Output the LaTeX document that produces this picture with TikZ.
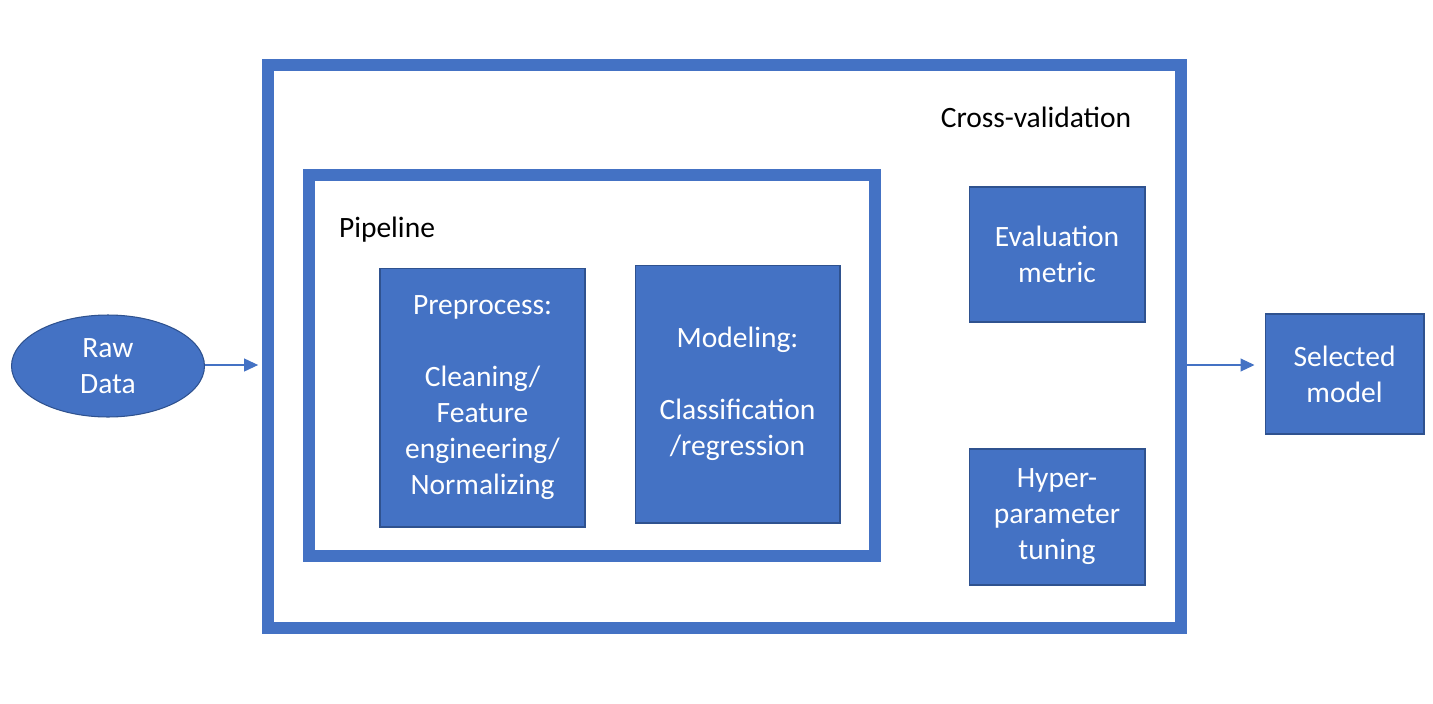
\documentclass[tikz,border=0pt]{standalone}
\usepackage{fontspec}
\setmainfont{Carlito}
\usetikzlibrary{shapes.geometric,arrows.meta}
\definecolor{officeblue}{HTML}{4472C4}
\definecolor{officeedge}{HTML}{2F528F}
\begin{document}
\begin{tikzpicture}[
        x=0.02cm, y=-0.02cm,
        font=\fontsize{16.8}{20.5}\selectfont,
        box/.style={
            draw=officeedge,
            fill=officeblue,
            line width=0.6pt,
            text=white,
            align=center,
            inner sep=2pt
        },
        frame/.style={
            draw=officeblue,
            line width=0.24cm
        },
        label/.style={text=black, inner sep=0pt},
        line/.style={draw=officeblue, line width=0.6pt, -{Triangle[length=0.28cm, width=0.26cm]}}
    ]
        \useasboundingbox (0,0) rectangle (1433,703);

        \node[box, ellipse, minimum width=3.86cm, minimum height=2.04cm] (raw) at (108,366) {Raw\\Data};

        \node[frame, minimum width=18.26cm, minimum height=11.26cm] (crossval) at (724.5,346.5) {};
        \node[label] (crossvaltext) at (1036,117) {Cross-validation};

        \node[frame, minimum width=11.32cm, minimum height=7.62cm] (pipeline) at (592,365.5) {};
        \node[label] (pipelinetext) at (387,230) {Pipeline};

        \node[box, minimum width=4.1cm, minimum height=5.18cm] (preprocess) at (482.5,397.5) {Preprocess:\\[20.5pt]Cleaning/\\Feature\\engineering/\\Normalizing};
        \node[box, minimum width=4.1cm, minimum height=5.16cm] (modeling) at (737.5,394) {Modeling:\\[20.5pt]Classification\\/regression};

        \node[box, minimum width=3.52cm, minimum height=2.7cm] (metric) at (1057,254.5) {Evaluation\\metric};
        \node[box, minimum width=3.52cm, minimum height=2.72cm] (tuning) at (1057,517) {Hyper-\\parameter\\tuning};

        \node[box, minimum width=3.18cm, minimum height=2.4cm] (selected) at (1344.5,374) {Selected\\model};

        \coordinate (flow) at (0,365);
        \draw[line, shorten >=0.08cm] (raw.east |- flow) -- (crossval.west |- flow);
        \draw[line, shorten >=0.2cm] (crossval.east |- flow) -- (selected.west |- flow);
    \end{tikzpicture}
\end{document}
